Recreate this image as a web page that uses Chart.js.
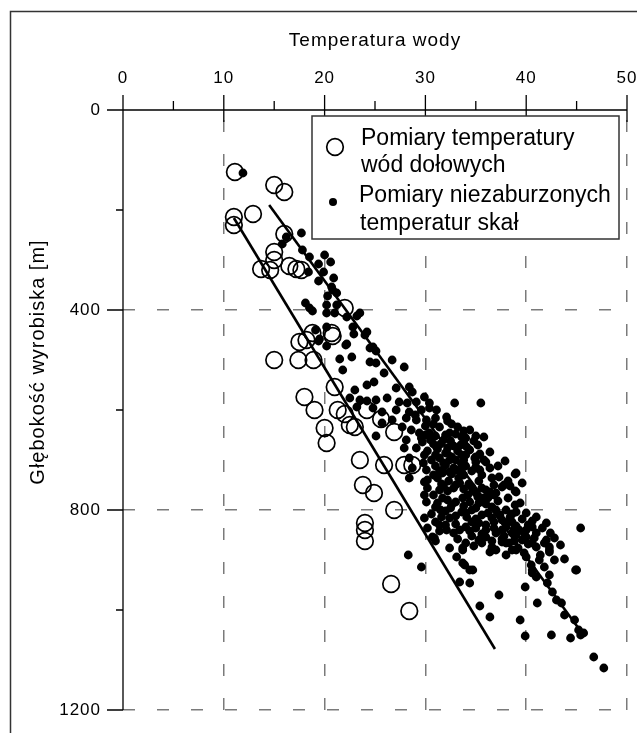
<!DOCTYPE html>
<html lang="pl">
<head>
<meta charset="utf-8">
<title>Temperatura wody</title>
<script src="https://cdn.jsdelivr.net/npm/chart.js@4.4.1/dist/chart.umd.min.js"></script>
<style>
  html, body { margin: 0; padding: 0; background: #fff; }
  #wrap { position: relative; width: 637px; height: 733px; }
</style>
</head>
<body>
<div id="wrap"><canvas id="tempChart" width="637" height="733"></canvas></div>
<script>
// axis titles and legend texts
const xTitle = 'Temperatura wody';
const yTitle = 'Głębokość wyrobiska [m]';
const legendWater = ['Pomiary temperatury', 'wód dołowych'];
const legendRock = ['Pomiary niezaburzonych', 'temperatur skał'];

// labelled ticks (minor ticks every 5 deg / 200 m)
const xLabelTicks = [0, 10, 20, 30, 40, 50];
const yLabelTicks = [0, 400, 800, 1200];

// [temperature, depth] - mine water measurements (open circles)
const waterPoints = [
  [11.1,124],[15.0,150],[16.0,164],[12.9,208],[11.0,214],[11.0,230],[16.0,248],[15.0,284],
  [15.0,300],[13.7,318],[14.6,320],[16.5,312],[17.2,318],[17.7,320],[22.0,396],[18.8,446],
  [20.7,446],[20.8,452],[18.2,460],[17.5,464],[15.0,500],[17.4,500],[18.9,500],[21.0,554],
  [18.0,574],[19.0,600],[21.3,600],[24.2,600],[22.0,608],[22.5,630],[23.0,634],[25.6,618],
  [20.0,636],[26.9,644],[20.2,666],[23.5,700],[25.9,710],[27.9,710],[28.7,710],[23.8,750],
  [24.9,766],[26.9,800],[24.0,826],[24.0,840],[24.0,862],[26.6,948],[28.4,1002]
];

// [temperature, depth] - undisturbed rock temperatures (dots)
const rockPoints = [
  [11.9,126],
  [17.7,246],[16.2,254],[15.8,268],[17.8,280],[18.5,294],[20.0,290],[20.6,304],[19.4,308],
  [19.9,324],[18.4,324],[20.9,336],[19.4,342],[20.7,354],[20.8,360],[21.2,366],[20.3,372],
  [18.1,386],[20.2,390],[21.2,390],[18.5,396],[18.8,402],[20.2,406],[21.0,406],[23.2,412],
  [22.2,414],[23.5,406],[20.2,434],[22.8,434],[19.1,440],[24.2,444],[22.9,448],[19.5,458],
  [19.4,462],[22.2,468],[20.2,472],[24.8,474],
  [24.0,450],[22.1,470],[24.5,476],[25.1,482],[21.5,498],[22.7,494],[24.5,504],[25.1,506],
  [21.8,520],[26.7,500],[27.9,514],[25.9,526],[24.2,550],[24.9,544],[23.0,560],[27.1,556],
  [28.4,554],[28.7,564],[29.9,574],[32.9,586],[35.5,586],[22.5,576],[23.5,580],[24.2,582],
  [25.1,580],[26.2,576],[27.4,584],[28.2,586],[29.1,584],[30.4,586],[23.2,594],[24.8,596],
  [25.7,604],[27.1,600],[28.4,604],[29.6,600],[30.4,596],[31.1,600],[32.1,614],[26.7,620],
  [28.1,616],[29.1,620],[30.1,620],[25.7,626],[27.7,634],[31.4,634],[28.6,640],[29.4,646],
  [25.1,652],[30.4,646],[32.4,646],[33.6,654],[35.0,652],[35.8,654],[28.1,660],[29.7,664],
  [27.9,676],[29.1,676],[31.1,674],[34.1,674],[28.4,696],[29.9,690],[34.9,696],[35.8,700],
  [28.7,716],[30.1,720],[31.7,720],[35.0,714],
  [30.8,628],[32.6,628],[34.4,640],[35.2,670],[36.4,684],[33.6,690],[32.4,700],
  [30.5,660],[31.5,668],[32.5,662],[33.5,670],[31.0,690],[32.0,686],[33.0,700],[34.0,690],
  [30.6,700],[31.8,706],[32.8,716],[34.0,712],[30.2,740],[31.2,736],[32.3,742],[33.3,736],
  [34.3,748],[35.3,742],[30.8,770],[32.2,762],[33.0,784],[34.2,770],[35.8,776],[36.8,770],
  [31.5,800],[32.5,796],[33.6,804],[34.6,800],[35.6,810],[36.6,816],[37.6,820],[38.6,824],
  [31.0,824],[32.0,830],[33.0,828],[34.0,834],[36.0,830],[37.0,846],[38.0,834],[39.0,850],
  [40.0,840],[41.0,846],[34.6,852],[35.6,866],[36.6,862],[37.0,880],[39.2,876],[40.2,868],
  [41.4,890],[42.8,900],[43.4,870],[43.8,898],
  [30.0,650],[31.0,652],[32.0,650],[33.0,648],[34.0,656],[34.8,662],
  [30.2,682],[31.2,678],[32.2,676],[33.2,682],[34.4,680],[35.4,688],
  [31.0,712],[32.0,710],[33.6,708],[34.6,722],[36.4,716],[37.2,712],
  [30.8,730],[32.6,728],[33.8,730],[35.6,730],[36.6,736],[38.2,742],
  [31.8,752],[32.8,756],[33.8,758],[35.6,756],[36.4,764],[38.4,752],[39.6,746],
  [31.2,786],[32.2,780],[34.4,784],[35.2,774],[37.2,782],[38.2,776],[39.4,786],
  [30.6,808],[31.6,814],[33.0,812],[34.0,806],[35.0,818],[36.2,806],[37.4,810],[38.4,814],
  [39.6,818],[40.6,822],
  [30.2,836],[31.4,842],[32.8,846],[34.4,842],[35.6,848],[36.8,836],[37.8,852],[38.8,838],
  [39.8,846],[40.8,856],[41.6,836],[42.4,846],
  [33.2,858],[34.0,866],[36.0,854],[37.6,858],[38.8,862],[41.8,866],[42.8,856],
  [29.0,610],[30.0,632],[31.0,616],[32.2,622],[33.2,634],[33.8,642],
  [29.6,656],[30.8,668],[31.8,660],[32.8,672],[33.8,664],[29.8,706],[31.4,696],[32.6,694],
  [33.8,700],[35.0,694],[31.4,722],[32.4,724],[33.6,724],[35.4,720],[30.2,756],[31.6,748],
  [33.0,750],[34.6,754],[35.0,766],[36.2,776],[37.0,766],[31.0,794],[32.6,790],[33.8,792],
  [35.0,796],[36.0,788],[37.0,800],[38.6,808],[32.0,802],[34.6,824],[36.8,824],[38.0,826],
  [39.0,832],[40.2,830],[31.0,862],[34.8,872],[36.4,884],[38.0,890],[39.8,886],
  [31.7,726],[33.1,720],[35.0,704],[36.0,704],[37.9,702],[39.0,726],[38.9,728],[31.4,760],
  [33.4,746],[34.7,760],[36.0,760],[37.6,754],[39.0,764],[38.9,762],[37.3,734],[37.8,750],
  [36.8,750],[29.9,770],[30.1,784],[28.4,736],[29.9,744],[31.7,776],[33.7,776],[35.3,786],
  [36.6,794],[38.0,800],[39.0,804],[40.0,806],[41.0,814],[42.0,826],[38.9,790],[29.9,816],
  [31.4,830],[32.4,816],[33.4,840],[35.0,836],[36.0,840],[37.6,840],[39.3,840],[40.6,834],
  [30.7,854],[30.9,856],[32.4,876],[33.7,876],[35.3,860],[36.6,874],[38.3,866],[39.6,860],
  [41.0,874],[42.3,880],[34.1,814],[35.3,826],[32.1,840],[38.6,846],[40.0,854],[40.6,866],
  [41.3,900],[40.6,920],[38.6,880],[38.0,866],[45.4,836],[45.0,920],[42.3,884],[42.0,860],
  [33.1,894],[33.7,906],[34.7,920],[33.7,880],[28.3,890],[29.6,914],
  [33.9,910],[34.4,920],[33.4,944],[34.4,946],[37.3,970],[35.4,992],[36.4,1014],[39.9,954],
  [41.1,986],[39.4,1020],[39.9,1052],[42.5,1050],[44.4,1056],[44.9,920],[45.4,1050],[45.7,1046],
  [46.7,1094],[47.7,1116],[42.3,874],[41.8,914],[42.3,930],[41.0,934],[42.1,946],[42.6,964],
  [43.0,980],[43.5,986],[43.8,1010],[44.8,1020],[45.2,1040],[40.6,926],[40.5,910],[40.0,894],
  [39.0,880],[37.6,864]
];

// trend lines [temperature, depth]
const waterTrend = [[11.0,216],[36.9,1078]];
const rockTrend = [[14.5,190],[45.5,1045]];

const toXY = p => ({ x: p[0], y: p[1] });
const FONT = '"Liberation Sans", Arial, sans-serif';

// letter spaced axis text like the original
const spacingPlugin = {
  id: 'spacing',
  beforeDraw(chart) { chart.ctx.letterSpacing = '1px'; }
};

// frame, axis lines with major/minor ticks, y title, legend box
const framePlugin = {
  id: 'frame',
  afterDraw(chart) {
    const ctx = chart.ctx;
    const a = chart.chartArea;
    const xs = chart.scales.x, ys = chart.scales.y;
    ctx.save();
    ctx.setLineDash([]);

    ctx.strokeStyle = '#333';
    ctx.lineWidth = 1.5;
    ctx.strokeRect(10.5, 11.5, 700, 800);

    ctx.strokeStyle = '#000';
    ctx.lineWidth = 1.3;
    ctx.beginPath();
    ctx.moveTo(a.left, a.top); ctx.lineTo(a.right, a.top);
    ctx.moveTo(a.left, a.top); ctx.lineTo(a.left, a.bottom);
    xs.ticks.forEach(t => {
      const px = xs.getPixelForValue(t.value);
      if (xLabelTicks.includes(t.value)) { ctx.moveTo(px, a.top - 15); ctx.lineTo(px, a.top + 12); }
      else { ctx.moveTo(px, a.top - 9); ctx.lineTo(px, a.top); }
    });
    ys.ticks.forEach(t => {
      const py = ys.getPixelForValue(t.value);
      ctx.moveTo(a.left - (yLabelTicks.includes(t.value) ? 16 : 7), py);
      ctx.lineTo(a.left, py);
    });
    ctx.stroke();

    // y axis title (sits a bit above the axis middle in the original)
    ctx.save();
    ctx.translate(38, 362);
    ctx.rotate(-Math.PI / 2);
    ctx.font = '20px ' + FONT;
    ctx.fillStyle = '#000';
    ctx.textAlign = 'center';
    ctx.textBaseline = 'middle';
    ctx.fillText(yTitle, 0, 0);
    ctx.restore();

    // legend
    ctx.letterSpacing = '0px';
    const bx = 312, by = 116, bw = 307, bh = 123;
    ctx.fillStyle = '#fff';
    ctx.fillRect(bx, by, bw, bh);
    ctx.strokeStyle = '#333';
    ctx.lineWidth = 1.5;
    ctx.strokeRect(bx, by, bw, bh);

    ctx.strokeStyle = '#000';
    ctx.lineWidth = 1.7;
    ctx.beginPath();
    ctx.arc(335, 147, 8.3, 0, Math.PI * 2);
    ctx.stroke();
    ctx.fillStyle = '#000';
    ctx.beginPath();
    ctx.arc(333, 202, 4, 0, Math.PI * 2);
    ctx.fill();

    ctx.font = '23px ' + FONT;
    ctx.textAlign = 'left';
    ctx.textBaseline = 'alphabetic';
    ctx.fillText(legendWater[0], 361, 145);
    ctx.fillText(legendWater[1], 361, 172);
    ctx.fillText(legendRock[0], 359, 202);
    ctx.fillText(legendRock[1], 360, 230);
    ctx.restore();
  }
};

const ctx = document.getElementById('tempChart').getContext('2d');

new Chart(ctx, {
  type: 'scatter',
  data: {
    datasets: [
      {
        label: 'trend wód',
        data: waterTrend.map(toXY),
        showLine: true,
        borderColor: '#000',
        borderWidth: 2.6,
        pointRadius: 0,
        order: 0
      },
      {
        label: 'trend skał',
        data: rockTrend.map(toXY),
        showLine: true,
        borderColor: '#000',
        borderWidth: 2.6,
        pointRadius: 0,
        order: 0
      },
      {
        label: legendWater.join(' '),
        data: waterPoints.map(toXY),
        pointStyle: 'circle',
        pointRadius: 8.3,
        pointBorderWidth: 1.7,
        borderColor: '#000',
        backgroundColor: 'rgba(0,0,0,0)',
        order: 1
      },
      {
        label: legendRock.join(' '),
        data: rockPoints.map(toXY),
        pointStyle: 'circle',
        pointRadius: 4.4,
        pointBorderWidth: 0,
        borderColor: '#000',
        backgroundColor: '#000',
        order: 2
      }
    ]
  },
  options: {
    responsive: false,
    animation: false,
    events: [],
    layout: { padding: { top: 0, left: 0, right: 9, bottom: 23 } },
    scales: {
      x: {
        type: 'linear',
        position: 'top',
        min: 0,
        max: 50,
        afterFit: s => { s.height = 110; s.paddingLeft = 0; s.paddingRight = 0; },
        ticks: {
          stepSize: 5,
          padding: 21,
          color: '#000',
          font: { family: FONT, size: 17 },
          callback: v => (xLabelTicks.includes(v) ? v : '')
        },
        grid: {
          drawTicks: false,
          lineWidth: 1.5,
          color: c => (c.tick && c.tick.value % 10 === 0 && c.tick.value !== 0 ? '#7a7a7a' : 'rgba(0,0,0,0)')
        },
        border: { display: false, dash: [12, 22], dashOffset: 24 },
        title: {
          display: true,
          text: xTitle,
          color: '#000',
          font: { family: FONT, size: 19 },
          padding: { top: 29, bottom: 0 }
        }
      },
      y: {
        type: 'linear',
        reverse: true,
        min: 0,
        max: 1200,
        afterFit: s => { s.width = 123; s.paddingTop = 0; s.paddingBottom = 0; },
        ticks: {
          stepSize: 200,
          padding: 22,
          color: '#000',
          font: { family: FONT, size: 17 },
          callback: v => (yLabelTicks.includes(v) ? v : '')
        },
        grid: {
          drawTicks: false,
          lineWidth: 1.5,
          color: c => (c.tick && c.tick.value % 400 === 0 && c.tick.value !== 0 ? '#7a7a7a' : 'rgba(0,0,0,0)')
        },
        border: { display: false, dash: [12, 22], dashOffset: 0 }
      }
    },
    plugins: {
      legend: { display: false },
      tooltip: { enabled: false }
    }
  },
  plugins: [spacingPlugin, framePlugin]
});
</script>
</body>
</html>
